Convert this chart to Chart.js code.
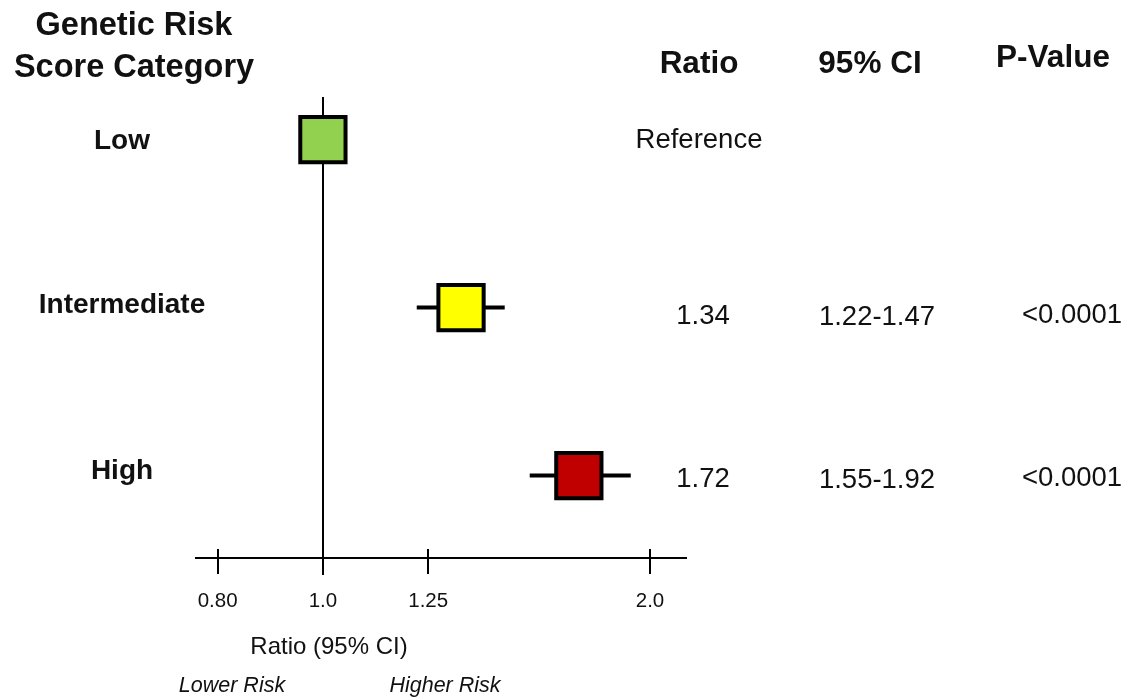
<!DOCTYPE html>
<html>
<head>
<meta charset="utf-8">
<script src="https://cdn.jsdelivr.net/npm/chart.js@4.4.1/dist/chart.umd.min.js"></script>
<style>
    html, body { margin: 0; padding: 0; background: #fff; }
    #wrap { width: 1139px; height: 700px; position: relative; }
</style>
</head>
<body>
<div id="wrap"><canvas id="forestChart"></canvas></div>
<script>
// data
const categories = ['Low', 'Intermediate', 'High'];
const ratios = [1.0, 1.34, 1.72];
const ciLow = [null, 1.22, 1.55];
const ciHigh = [null, 1.47, 1.92];
const ratioText = ['Reference', '1.34', '1.72'];
const ciText = ['', '1.22-1.47', '1.55-1.92'];
const pText = ['', '<0.0001', '<0.0001'];
const tickVals = [0.8, 1.0, 1.25, 2.0];
const tickLabels = ['0.80', '1.0', '1.25', '2.0'];

const boxColors = ['#92d050', '#ffff00', '#c00000'];
const FONT = '"Liberation Sans", Arial, sans-serif';
// small vertical nudges of the table text, per row (label, values)
const labelShift = [1.5, -2.5, -4.5];
const valueShift = [0.5, 8.5, 3.5];

const drawText = function (ctx, text, x, y, font) {
    ctx.font = font;
    ctx.fillText(text, x, y);
}

const forestPlugin = {
    id: 'forest',
    beforeDatasetsDraw(chart) {
        const {ctx, chartArea} = chart;
        const xs = chart.scales.x, ys = chart.scales.y;
        ctx.save();
        ctx.strokeStyle = '#000';
        ctx.lineWidth = 2;

        // axis line
        ctx.beginPath();
        ctx.moveTo(chartArea.left, chartArea.bottom);
        ctx.lineTo(chartArea.right, chartArea.bottom);
        ctx.stroke();

        // tick marks crossing the axis
        tickVals.forEach(v => {
            const px = Math.round(xs.getPixelForValue(v));
            ctx.beginPath();
            ctx.moveTo(px, chartArea.bottom - 9);
            ctx.lineTo(px, chartArea.bottom + 16);
            ctx.stroke();
        });

        // no-effect line at 1.0
        const p1 = Math.round(xs.getPixelForValue(1));
        ctx.beginPath();
        ctx.moveTo(p1, chartArea.top);
        ctx.lineTo(p1, chartArea.bottom + 17);
        ctx.stroke();

        // confidence interval whiskers
        ctx.lineWidth = 4;
        categories.forEach((c, i) => {
            if (ciLow[i] === null) {
                return;
            }
            const py = ys.getPixelForValue(i);
            ctx.beginPath();
            ctx.moveTo(xs.getPixelForValue(ciLow[i]), py);
            ctx.lineTo(xs.getPixelForValue(ciHigh[i]), py);
            ctx.stroke();
        });
        ctx.restore();
    },
    afterDraw(chart) {
        const ctx = chart.ctx;
        const ys = chart.scales.y;
        ctx.save();
        ctx.fillStyle = '#111';
        ctx.textAlign = 'center';
        ctx.textBaseline = 'middle';

        // headers
        drawText(ctx, 'Genetic Risk', 134, 26, 'bold 32.5px ' + FONT);
        drawText(ctx, 'Score Category', 134, 68, 'bold 32.5px ' + FONT);
        drawText(ctx, 'Ratio', 699, 64, 'bold 31.5px ' + FONT);
        drawText(ctx, '95% CI', 870, 64, 'bold 31.5px ' + FONT);
        drawText(ctx, 'P-Value', 1053, 58, 'bold 31.5px ' + FONT);

        // table rows
        categories.forEach((c, i) => {
            const py = ys.getPixelForValue(i);
            drawText(ctx, c, 122, py + labelShift[i], 'bold 28px ' + FONT);
            drawText(ctx, ratioText[i], i === 0 ? 699 : 703, py + valueShift[i], '27.5px ' + FONT);
            drawText(ctx, ciText[i], 877, py + valueShift[i] + 1, '27.5px ' + FONT);
            drawText(ctx, pText[i], 1072, py + valueShift[i] - 1, '27.5px ' + FONT);
        });

        // axis annotations
        drawText(ctx, 'Ratio (95% CI)', 329, 647, '24px ' + FONT);
        drawText(ctx, 'Lower Risk', 232, 686, 'italic 21.5px ' + FONT);
        drawText(ctx, 'Higher Risk', 445, 686, 'italic 21.5px ' + FONT);
        ctx.restore();
    }
};

const ctx = document.getElementById('forestChart').getContext('2d');
const config = {
    type: 'scatter',
    data: {
        datasets: [{
            label: 'Ratio',
            data: categories.map((c, i) => ({x: ratios[i], y: i})),
            pointStyle: 'rect',
            pointRadius: 32,
            pointHoverRadius: 32,
            pointBackgroundColor: boxColors,
            pointBorderColor: '#000',
            pointBorderWidth: 4,
            pointHoverBorderWidth: 4,
            clip: false,
        }]
    },
    options: {
        responsive: true,
        maintainAspectRatio: false,
        animation: false,
        events: [],
        layout: {
            padding: {left: 195, right: 452, top: 97, bottom: 0}
        },
        plugins: {
            legend: {display: false},
            tooltip: {enabled: false},
        },
        scales: {
            x: {
                type: 'logarithmic',
                min: 0.7626,
                max: 2.163,
                afterBuildTicks: function (scale) {
                    scale.ticks = tickVals.map(v => ({value: v}));
                },
                afterFit: function (scale) {
                    scale.height = 142;
                },
                grid: {display: false, drawTicks: false},
                border: {display: false},
                ticks: {
                    autoSkip: false,
                    maxRotation: 0,
                    padding: 31,
                    color: '#111',
                    font: {family: FONT, size: 20.5},
                    callback: function (value, index) {
                        return tickLabels[index];
                    }
                }
            },
            y: {
                type: 'linear',
                reverse: true,
                min: -0.253,
                max: 2.491,
                display: false,
            }
        }
    },
    plugins: [forestPlugin]
};
const myChart = new Chart(ctx, config);
</script>
</body>
</html>
